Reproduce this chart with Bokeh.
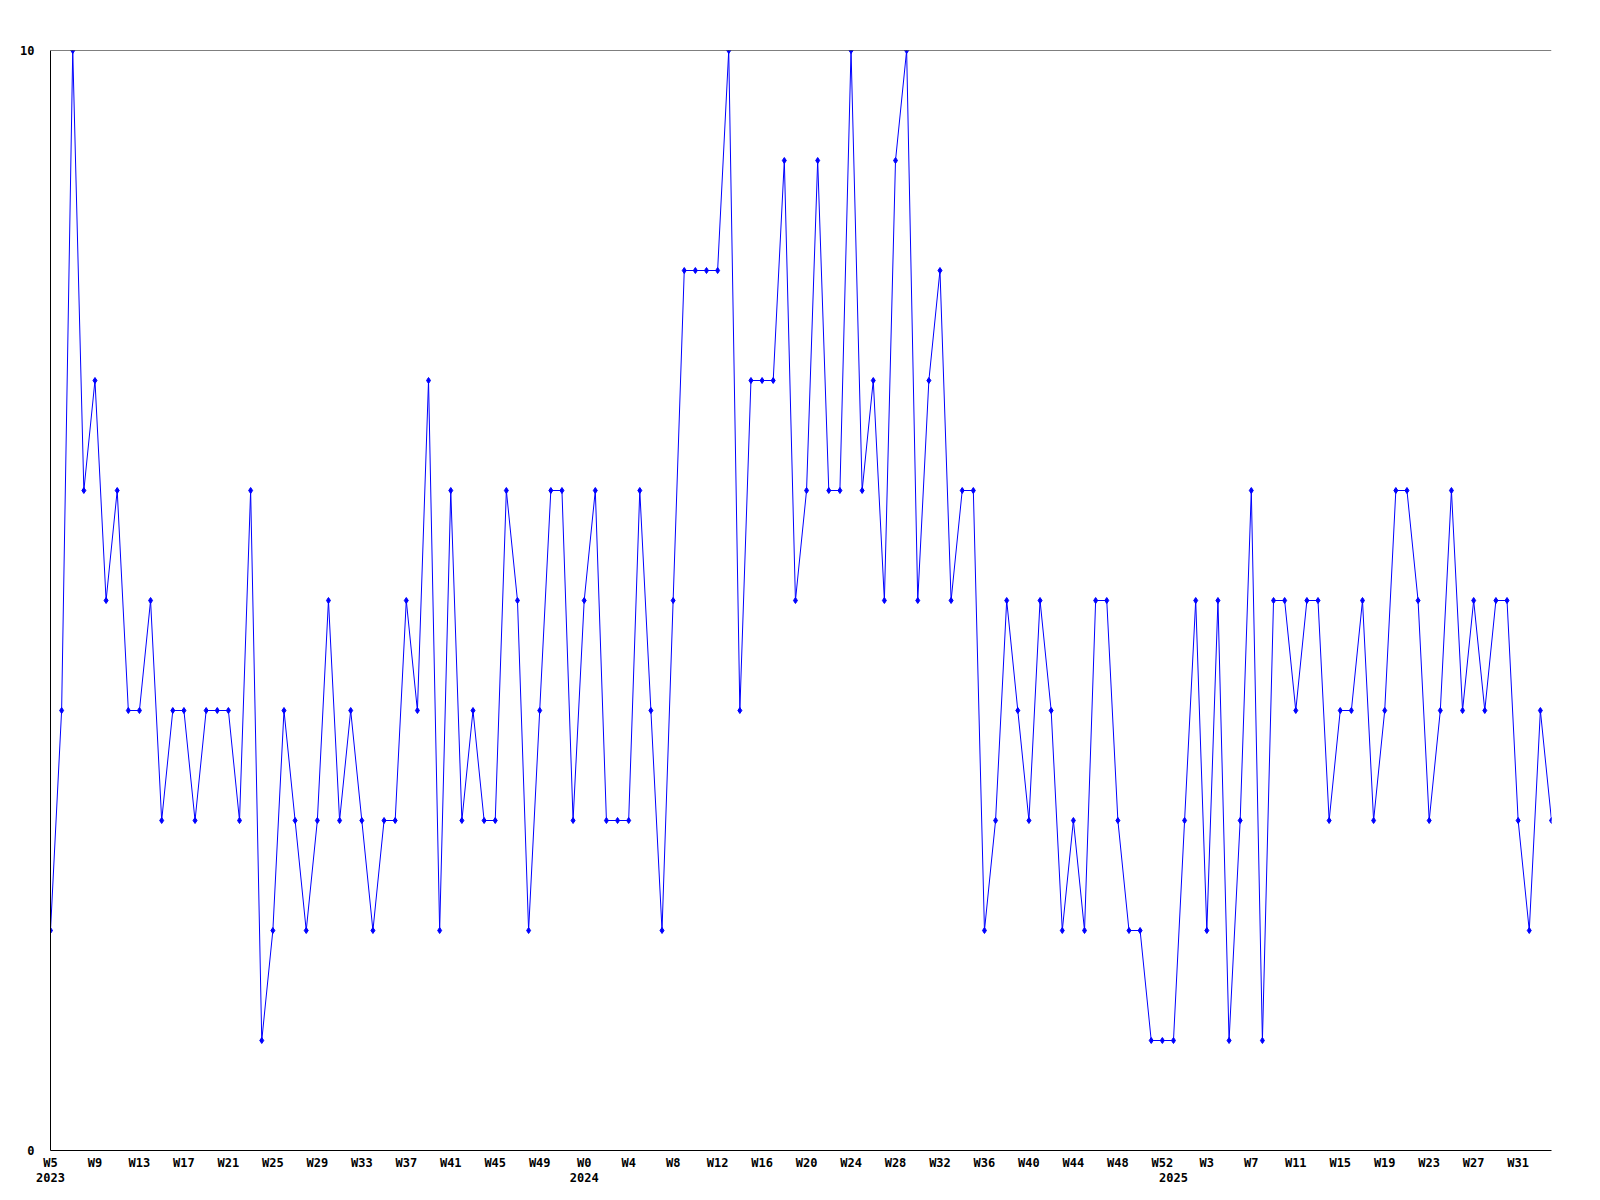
from bokeh.plotting import figure
from bokeh.models import FixedTicker, LinearAxis, Range1d, Span
from bokeh.embed import file_html
from bokeh.resources import INLINE

# Weeks covered: 2023 W5..W52, 2024 W0..W52, 2025 W0..W34
years = ["2023", "2024", "2025"]
first_week = [5, 0, 0]
last_week = [52, 52, 34]

values = [
    2, 4, 10, 6, 7, 5, 6, 4, 4, 5,
    3, 4, 4, 3, 4, 4, 4, 3, 6, 1,
    2, 4, 3, 2, 3, 5, 3, 4, 3, 2,
    3, 3, 5, 4, 7, 2, 6, 3, 4, 3,
    3, 6, 5, 2, 4, 6, 6, 3, 5, 6,
    3, 3, 3, 6, 4, 2, 5, 8, 8, 8,
    8, 10, 4, 7, 7, 7, 9, 5, 6, 9,
    6, 6, 10, 6, 7, 5, 9, 10, 5, 7,
    8, 5, 6, 6, 2, 3, 5, 4, 3, 5,
    4, 2, 3, 2, 5, 5, 3, 2, 2, 1,
    1, 1, 3, 5, 2, 5, 1, 3, 6, 1,
    5, 5, 4, 5, 5, 3, 4, 4, 5, 3,
    4, 6, 6, 5, 3, 4, 6, 4, 5, 4,
    5, 5, 3, 2, 4, 3,
]

y_ticks = [0, 10]

week_labels = []
year_of_point = []
for yr, fw, lw in zip(years, first_week, last_week):
    for w in range(fw, lw + 1):
        week_labels.append(f"W{w}")
        year_of_point.append(yr)

n = min(len(values), len(week_labels))
values = values[:n]
xs = list(range(n))

FONT = "DejaVu Sans Mono"

p = figure(
    width=1592, height=1192,
    output_backend="svg", toolbar_location=None,
    x_range=Range1d(0, n - 1), y_range=Range1d(0, 10),
    min_border_left=50, min_border_right=41,
    min_border_top=50, min_border_bottom=42,
)
p.outline_line_color = None
p.background_fill_color = "white"
p.border_fill_color = "white"

# x axis (weeks)
wk_ticks = xs[::4]
xa = p.xaxis[0]
xa.ticker = FixedTicker(ticks=wk_ticks)
xa.major_label_overrides = {i: week_labels[i] for i in wk_ticks}
xa.major_tick_out = 0
xa.major_tick_in = 0
xa.minor_tick_out = 0
xa.minor_tick_in = 0
xa.axis_line_color = "black"
xa.axis_line_width = 1
xa.major_label_standoff = 5
xa.major_label_text_font = FONT
xa.major_label_text_font_style = "bold"
xa.major_label_text_font_size = "12px"
xa.major_label_text_color = "black"

# second x axis (years)
present = [yr for yr in years if yr in year_of_point[:n]]
yr_ticks = [year_of_point.index(yr) for yr in present]
ya2 = LinearAxis(ticker=FixedTicker(ticks=yr_ticks))
ya2.major_label_overrides = {year_of_point.index(yr): yr for yr in present}
ya2.axis_line_color = None
ya2.major_tick_out = 0
ya2.major_tick_in = 0
ya2.minor_tick_out = 0
ya2.minor_tick_in = 0
ya2.major_label_standoff = 0
ya2.major_label_text_font = FONT
ya2.major_label_text_font_style = "bold"
ya2.major_label_text_font_size = "12px"
ya2.major_label_text_color = "black"
p.add_layout(ya2, "below")

# y axis
ya = p.yaxis[0]
ya.ticker = FixedTicker(ticks=y_ticks)
ya.major_tick_out = 0
ya.major_tick_in = 0
ya.minor_tick_out = 0
ya.minor_tick_in = 0
ya.axis_line_color = "black"
ya.major_label_standoff = 16
ya.major_label_text_font = FONT
ya.major_label_text_font_style = "bold"
ya.major_label_text_font_size = "12px"
ya.major_label_text_color = "black"

p.xgrid.visible = False
p.ygrid.visible = False
p.add_layout(Span(location=y_ticks[-1], dimension="width", line_color="black", line_width=1))

p.line(xs, values, line_color="#0000ff", line_width=1)
p.scatter(xs, values, marker="diamond", size=6, fill_color="#0000ff", line_color="#0000ff")

open("out.html", "w").write(file_html(p, INLINE))
